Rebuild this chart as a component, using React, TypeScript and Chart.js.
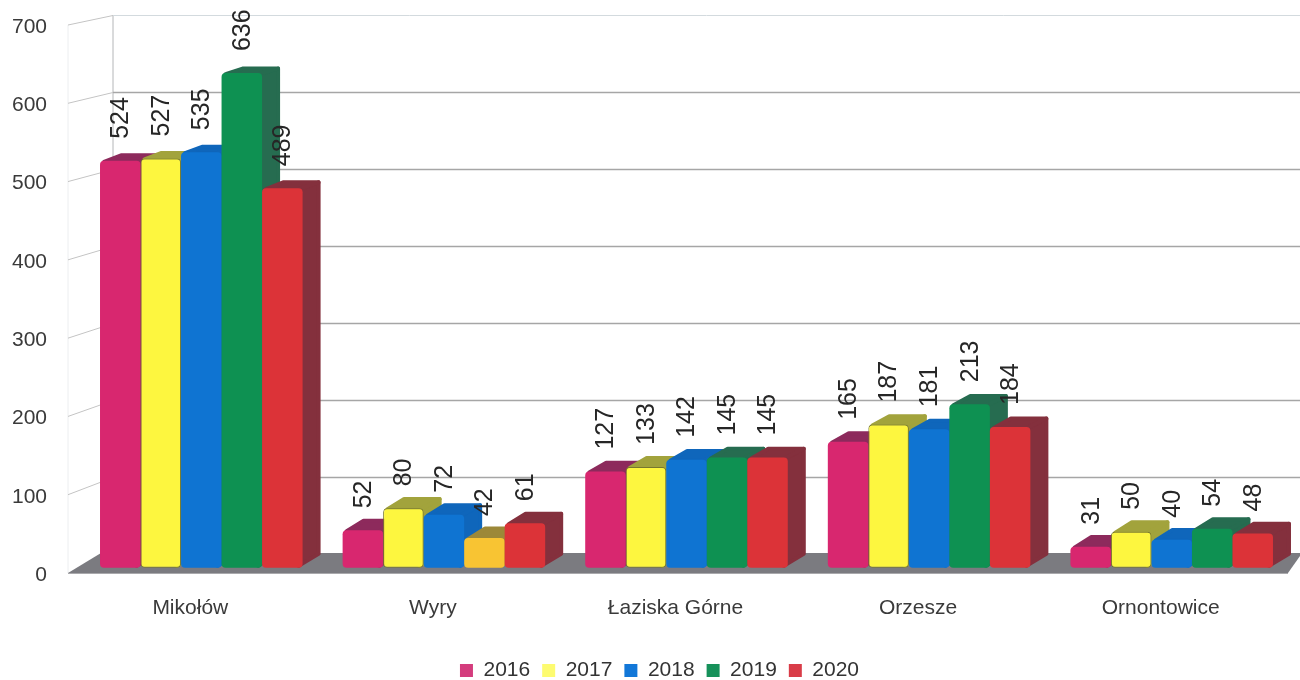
import React, { useEffect, useRef } from "react";
import { Chart, registerables } from "chart.js";

Chart.register(...registerables);

const categories = ["Mikołów", "Wyry", "Łaziska Górne", "Orzesze", "Ornontowice"];
const years = ["2016", "2017", "2018", "2019", "2020"];
const values2016 = [524, 52, 127, 165, 31];
const values2017 = [527, 80, 133, 187, 50];
const values2018 = [535, 72, 142, 181, 40];
const values2019 = [636, 42, 145, 213, 54];
const values2020 = [489, 61, 145, 184, 48];
const allValues = [values2016, values2017, values2018, values2019, values2020];
const frontColors = ["#d8276f", "#fdf63f", "#0f74d2", "#0e9152", "#dc3338"];
const depthColors = ["#8d2a5c", "#a2a33c", "#0f66bb", "#266c50", "#84303d"];
const legendColors = ["#d43c7d", "#fdfb70", "#1277d8", "#16915a", "#d93c48"];
const accentIndex = 1;
const accentFront = "#f8c433";
const accentDepth = "#9c8838";
const FONT = "'Liberation Sans', Arial, sans-serif";

const polygon = (ctx: any, pts: number[][], color: string) => {
  ctx.beginPath();
  pts.forEach((p, i) => (i ? ctx.lineTo(p[0], p[1]) : ctx.moveTo(p[0], p[1])));
  ctx.closePath();
  ctx.fillStyle = color;
  ctx.strokeStyle = color;
  ctx.lineWidth = 4;
  ctx.lineJoin = "round";
  ctx.fill();
  ctx.stroke();
};

const wallPlugin = {
  id: "wall",
  afterLayout(chart: any) {
    const legend = chart.legend;
    legend.left += 13;
    legend.right += 13;
    legend.top += 11;
    legend.bottom += 11;
  },
  beforeDatasetsDraw(chart: any) {
    const { ctx, scales, chartArea } = chart;
    const y = scales.y;
    const backY = (v: number) => y.getPixelForValue(v) * 0.9836 - 7.6;
    const backX = chartArea.left + 33;
    const frontX = chartArea.left - 12;
    ctx.save();
    ctx.lineWidth = 1;
    ctx.strokeStyle = "#eceef0";
    ctx.beginPath();
    ctx.moveTo(frontX, y.getPixelForValue(700) + 2);
    ctx.lineTo(frontX, y.getPixelForValue(0) + 2);
    ctx.stroke();
    ctx.strokeStyle = "#b4b6b8";
    ctx.beginPath();
    ctx.moveTo(backX, backY(700));
    ctx.lineTo(backX, backY(0));
    ctx.stroke();
    y.ticks.forEach((t: any) => {
      const by = Math.round(backY(t.value)) + 0.5;
      ctx.strokeStyle = t.value === 700 ? "#d3dade" : "#a6a6a6";
      ctx.lineWidth = t.value === 700 ? 1 : 1.3;
      ctx.beginPath();
      ctx.moveTo(backX, by);
      ctx.lineTo(chart.width, by);
      ctx.stroke();
      if (t.value > 0) {
        ctx.strokeStyle = "#c4c4c4";
        ctx.lineWidth = 1;
        ctx.beginPath();
        ctx.moveTo(frontX, y.getPixelForValue(t.value) + 2);
        ctx.lineTo(backX, by);
        ctx.stroke();
      }
    });
    const fy = y.getPixelForValue(0) + 2;
    const by = backY(0) - 1;
    ctx.beginPath();
    ctx.moveTo(frontX, fy);
    ctx.lineTo(chartArea.right - 5, fy);
    ctx.lineTo(chartArea.right + 9, by);
    ctx.lineTo(frontX + 33, by);
    ctx.closePath();
    ctx.fillStyle = "#7b7b80";
    ctx.fill();
    ctx.strokeStyle = "#a9a9ac";
    ctx.lineWidth = 1;
    ctx.beginPath();
    ctx.moveTo(frontX, fy + 0.5);
    ctx.lineTo(chartArea.right - 5, fy + 0.5);
    ctx.stroke();
    ctx.restore();
  },
  beforeDatasetDraw() {
    return false;
  },
  afterDatasetsDraw(chart: any) {
    const { ctx } = chart;
    ctx.save();
    const metas = chart.getSortedVisibleDatasetMetas();
    categories.forEach((_, c) => {
      metas.forEach((meta: any, d: number) => {
        const el = meta.data[c];
        const left = el.x - el.width / 2 + 1;
        const right = el.x + el.width / 2 - 1;
        const v = allValues[d][c];
        const dx = 17;
        const dyTop = 11 - (6 * v) / 700;
        const dyBase = 12;
        const color = d === 3 && c === accentIndex ? accentDepth : depthColors[d];
        polygon(ctx, [[right - 3, el.y + 2], [right - 3, el.base - 2], [right + dx, el.base - dyBase - 2], [right + dx, el.y - dyTop + 1]], color);
        polygon(ctx, [[left + 3, el.y + 1], [right - 3, el.y + 1], [right + dx, el.y - dyTop + 1], [left + dx + 3, el.y - dyTop + 1]], color);
        el.draw(ctx, chart.chartArea);
      });
    });
    ctx.fillStyle = "#262626";
    ctx.font = `25px ${FONT}`;
    ctx.textAlign = "left";
    ctx.textBaseline = "middle";
    metas.forEach((meta: any, d: number) => {
      meta.data.forEach((el: any, c: number) => {
        ctx.save();
        ctx.translate(el.x, el.y - 22);
        ctx.rotate(-Math.PI / 2);
        ctx.fillText(String(allValues[d][c]), 0, 1);
        ctx.restore();
      });
    });
    ctx.restore();
  },
};

export default function App() {
  const ref = useRef<HTMLCanvasElement | null>(null);
  useEffect(() => {
    if (!ref.current) return;
    const chart = new Chart(ref.current, {
      type: "bar",
      data: {
        labels: categories,
        datasets: years.map((year, d) => ({
          label: year,
          data: allValues[d],
          base: 4,
          backgroundColor: (ctx: any) =>
            d === 3 && ctx.dataIndex === accentIndex ? accentFront : frontColors[d],
          borderColor: d === 1 ? "#77772e" : "rgba(0,0,0,0)",
          borderWidth: d === 1 ? 1 : 0,
          borderRadius: 4,
          borderSkipped: false,
          categoryPercentage: 0.835,
          barPercentage: 1,
        })),
      },
      options: {
        responsive: false,
        animation: false,
        layout: { padding: { top: 23, left: 0, right: 7, bottom: 0 } },
        plugins: {
          tooltip: { enabled: false },
          legend: {
            position: "bottom",
            labels: {
              color: "#333333",
              font: { family: FONT, size: 21 },
              boxWidth: 13,
              boxHeight: 13,
              padding: 12,
              generateLabels: () =>
                years.map((year, i) => ({
                  text: year,
                  fillStyle: legendColors[i],
                  strokeStyle: legendColors[i],
                  lineWidth: 0,
                  fontColor: "#333333",
                  hidden: false,
                  datasetIndex: i,
                })),
            },
          },
        },
        scales: {
          x: {
            grid: { display: false, drawTicks: false },
            border: { display: false },
            afterFit: (s: any) => {
              s.height = 66;
            },
            ticks: {
              color: "#3a3a3a",
              font: { family: FONT, size: 21 },
              padding: 25,
              labelOffset: -11,
              maxRotation: 0,
              autoSkip: false,
            },
          },
          y: {
            min: 0,
            max: 700,
            grid: { display: false, drawTicks: false },
            border: { display: false },
            afterFit: (s: any) => {
              s.width = 80;
              s.paddingTop = 0;
              s.paddingBottom = 0;
            },
            ticks: {
              stepSize: 100,
              color: "#3a3a3a",
              font: { family: FONT, size: 21 },
              padding: 33,
              labelOffset: 4,
            },
          },
        },
      },
      plugins: [wallPlugin],
    } as any);
    return () => chart.destroy();
  }, []);
  return (
    <div style={{ position: "absolute", left: 0, top: 0, width: 1300, height: 680, background: "#ffffff" }}>
      <canvas ref={ref} width={1300} height={680} style={{ display: "block", filter: "blur(0.4px)" }} />
    </div>
  );
}
